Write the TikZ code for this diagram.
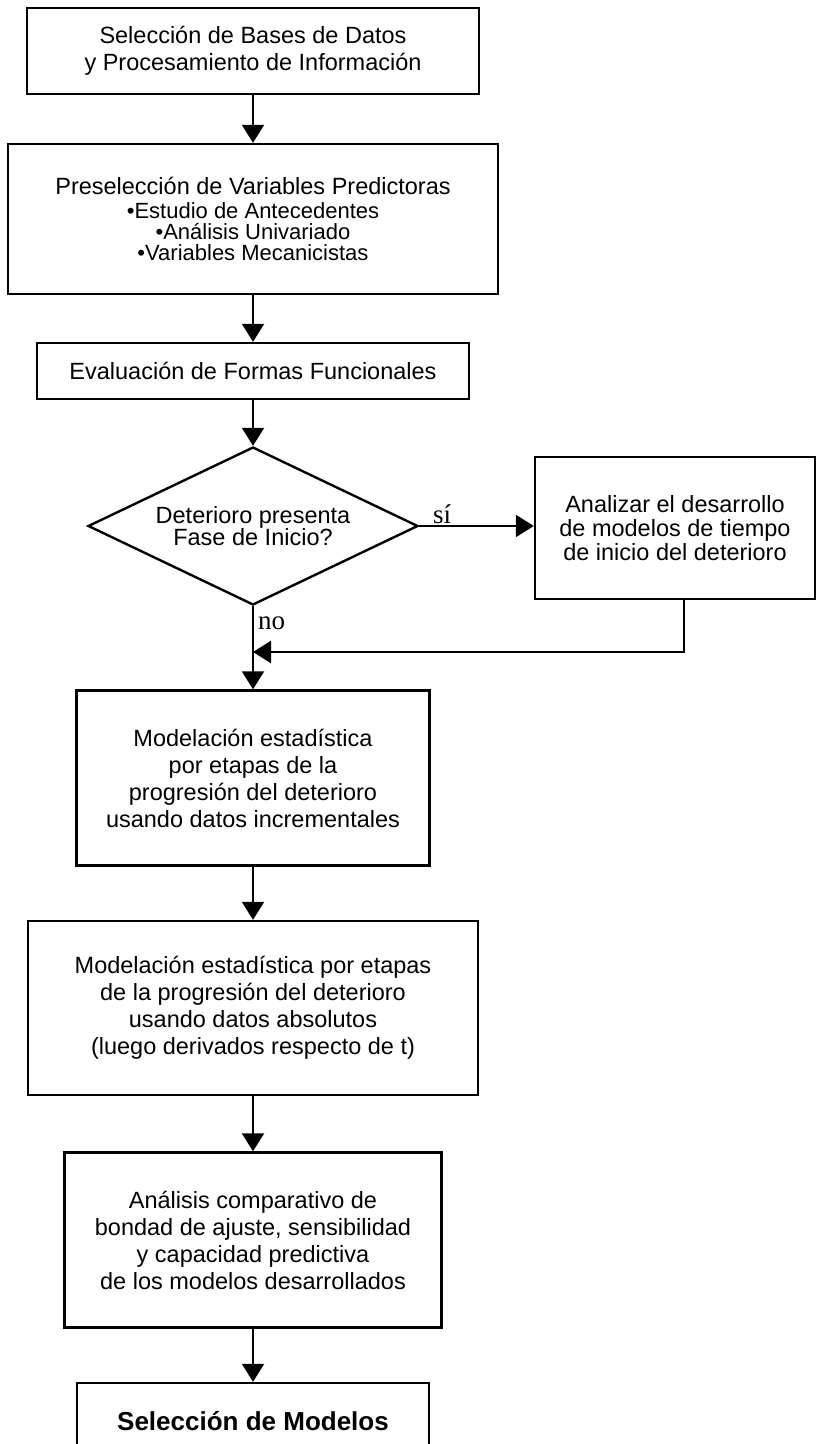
\documentclass[tikz,border=0pt]{standalone}
\usepackage{fontspec}
\setmainfont{Liberation Sans}
\newfontfamily\labelfont{Liberation Serif}
\usetikzlibrary{arrows.meta,shapes.geometric}

\begin{document}
\begin{tikzpicture}[
  x=1pt,y=-1pt,
  box/.style={draw,line width=2.4pt,align=center,inner sep=0pt},
  decision/.style={draw,diamond,line width=2.4pt,align=center,inner sep=0pt,aspect=2.09},
  flow/.style={-{Triangle[length=18pt,width=22pt]},line width=2.2pt},
  answer/.style={font=\labelfont\fontsize{27}{30}\selectfont},
  every node/.append style={font=\fontsize{23.5}{27}\selectfont}
]
  \useasboundingbox (0,0) rectangle (817,1444);

  \node[box,minimum width=452pt,minimum height=86pt] (bases) at (253,51)
    {Selección de Bases de Datos\\y Procesamiento de Información};
  \node[box,minimum width=490pt,minimum height=150pt] (presel) at (253,219)
    {Preselección de Variables Predictoras\\[-3pt]
     \fontsize{22}{22}\selectfont •Estudio de Antecedentes\\[-6pt]
     \fontsize{22}{22}\selectfont •Análisis Univariado\\[-6pt]
     \fontsize{22}{22}\selectfont •Variables Mecanicistas};
  \node[box,minimum width=432pt,minimum height=56pt] (formas) at (253,371)
    {Evaluación de Formas Funcionales};
  \node[decision,minimum width=330pt,minimum height=158pt] (inicio) at (253,526)
    {Deterioro presenta\\[-5pt]Fase de Inicio?};
  \node[box,minimum width=280pt,minimum height=142pt] (tiempo) at (675,528)
    {Analizar el desarrollo\\[-3pt]de modelos de tiempo\\[-3pt]de inicio del deterioro};
  \node[box,minimum width=353pt,minimum height=175pt] (increm) at (253,778)
    {Modelación estadística\\por etapas de la\\progresión del deterioro\\usando datos incrementales};
  \node[box,minimum width=450pt,minimum height=174pt] (absol) at (253,1008)
    {Modelación estadística por etapas\\de la progresión del deterioro\\usando datos absolutos\\(luego derivados respecto de t)};
  \node[box,minimum width=377pt,minimum height=175pt] (compar) at (253,1240)
    {Análisis comparativo de\\bondad de ajuste, sensibilidad\\y capacidad predictiva\\de los modelos desarrollados};
  \node[box,minimum width=352pt,minimum height=76pt,font=\bfseries\fontsize{26}{30}\selectfont] (modelos) at (253,1421)
    {Selección de Modelos};
  \coordinate (retorno) at (253,652);

  \draw[flow] (bases) -- (presel);
  \draw[flow] (presel) -- (formas);
  \draw[flow] (formas) -- (inicio);
  \draw[flow] (inicio.east) -- node[answer,pos=.2,above,inner sep=1pt] {sí} (tiempo.west |- inicio.east);
  \draw[flow] (inicio) -- node[answer,pos=.2,right,inner sep=4pt] {no} (increm);
  \draw[flow] ([xshift=9pt]tiempo.south) |- (retorno);
  \draw[flow] (increm) -- (absol);
  \draw[flow] (absol) -- (compar);
  \draw[flow] (compar) -- (modelos);
\end{tikzpicture}
\end{document}
